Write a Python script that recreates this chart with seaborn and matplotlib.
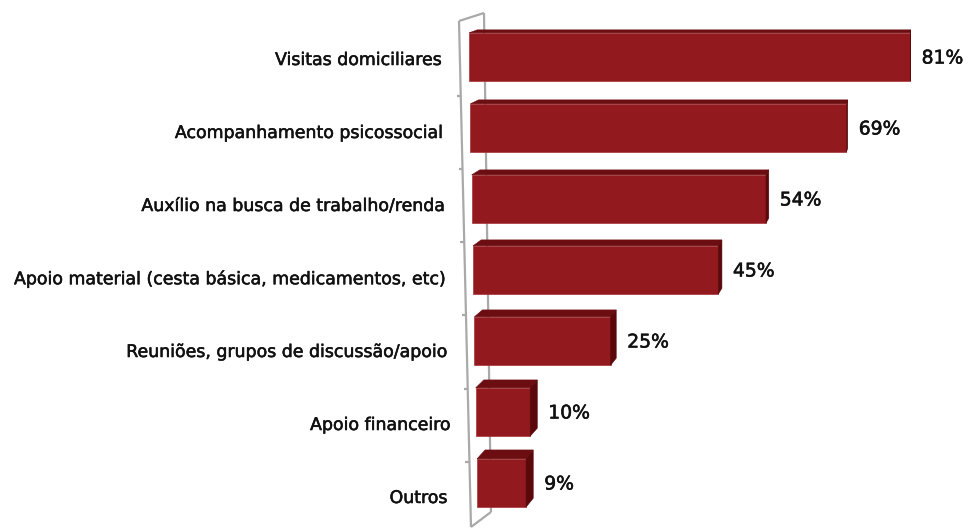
import matplotlib
matplotlib.use("Agg")
import matplotlib.pyplot as plt
import matplotlib.patheffects as pe
import seaborn as sns
import pandas as pd
from matplotlib.patches import Polygon
from matplotlib.lines import Line2D

# ---- data -------------------------------------------------------------
categories = [
    "Visitas domiciliares",
    "Acompanhamento psicossocial",
    "Auxílio na busca de trabalho/renda",
    "Apoio material (cesta básica, medicamentos, etc)",
    "Reuniões, grupos de discussão/apoio",
    "Apoio financeiro",
    "Outros ",
]
values = [81, 69, 54, 45, 25, 10, 9]
value_labels = [f"{v}%" for v in values]

# ---- style ------------------------------------------------------------
FRONT = "#921a1e"
TOP = "#6c0d11"
SIDE = "#5a080b"
EDGE = "#a83236"
WALL = "#a9a9a9"
INK = "#111111"
HEAVY = [pe.withStroke(linewidth=0.4, foreground=INK)]

sns.set_theme(style="white")
plt.rcParams["font.family"] = ["DejaVu Sans"]

W, H = 968, 531
fig = plt.figure(figsize=(W / 100, H / 100), dpi=100)
fig.patch.set_facecolor("white")
PX_PER_UNIT = 5.45
ax = fig.add_axes([469 / W, 1 - 518.5 / H, 490 / W, 497 / H])

df = pd.DataFrame({"categoria": categories, "valor": values})
sns.barplot(data=df, x="valor", y="categoria", orient="h", color=FRONT,
            saturation=1, width=0.68, edgecolor=EDGE, linewidth=0.5,
            ax=ax, zorder=3)
ax.set_xlim(0, 490 / PX_PER_UNIT)
ax.set_ylim(len(categories) - 0.5, -0.5)
ax.axis("off")


def to_px(x, y):
    dx, dy = ax.transData.transform((x, y))
    return dx, H - dy


def from_px(px, py):
    return tuple(ax.transData.inverted().transform((px, H - py)))


# perspective: depth offset of a front corner seen in pixel space
VP_X, X_RATE = 920.0, 55.0
VP_Y, Y_RATE = -183.0, 72.0


def depth(px, py):
    return (VP_X - px) / X_RATE, -(py - VP_Y) / Y_RATE


# bars start further right lower down (slanted floor of the wall)
SHIFT_PER_ROW = 0.245

for i, patch in enumerate(ax.patches):
    patch.set_x(patch.get_x() + SHIFT_PER_ROW * i)
    x0, x1 = patch.get_x(), patch.get_x() + patch.get_width()
    y0, y1 = patch.get_y(), patch.get_y() + patch.get_height()
    L, T = to_px(x0, y0)
    R, B = to_px(x1, y1)
    dLx, dLy = depth(L, T)
    dRx, dRy = depth(R, T)
    dBx, dBy = depth(R, B)
    top = [(L, T), (R, T), (R + dRx, T + dRy), (L + dLx, T + dLy)]
    side = [(R, T), (R + dRx, T + dRy), (R + dBx, B + dRy), (R, B)]
    ax.add_patch(Polygon([from_px(*p) for p in top], closed=True,
                         facecolor=TOP, edgecolor=TOP, lw=0.4,
                         zorder=3, clip_on=False))
    ax.add_patch(Polygon([from_px(*p) for p in side], closed=True,
                         facecolor=SIDE, edgecolor=SIDE, lw=0.4,
                         zorder=3, clip_on=False))
    cy = (T + B) / 2 + 1
    tx, ty = from_px(R + dRx + 11, cy)
    ax.text(tx, ty, value_labels[i], ha="left", va="center",
            fontsize=13.5, color=INK, clip_on=False, path_effects=HEAVY)

# ---- side wall ----------------------------------------------------------
wall_front = [(459, 21), (471, 527)]
wall_back = [(484, 13), (491, 512)]


def wall_x(py):
    (xa, ya), (xb, yb) = wall_front
    return xa + (xb - xa) * (py - ya) / (yb - ya)


def add_line(p, q, z=1):
    a, b = from_px(*p), from_px(*q)
    ax.add_line(Line2D([a[0], b[0]], [a[1], b[1]], color=WALL, lw=1.6,
                       zorder=z, clip_on=False, solid_capstyle="butt"))


add_line(*wall_front, z=2)
add_line(*wall_back, z=1)
add_line(wall_front[0], wall_back[0], z=1)
add_line(wall_front[1], wall_back[1], z=1)

# category rows along the wall (slightly larger pitch than the bars)
ROW0_PX, ROW_PITCH_PX = 60.0, 73.0
for i, label in enumerate(categories):
    py = ROW0_PX + ROW_PITCH_PX * i
    lx, ly = from_px(wall_x(py) - 17, py)
    ax.text(lx, ly, label, ha="right", va="center", fontsize=12.5,
            color=INK, clip_on=False, path_effects=HEAVY)
    if i < len(categories) - 1:
        ty = py + ROW_PITCH_PX / 2
        wx = wall_x(ty)
        add_line((wx - 4, ty), (wx, ty), z=2)

fig.savefig("out.png", dpi=100, facecolor="white")
